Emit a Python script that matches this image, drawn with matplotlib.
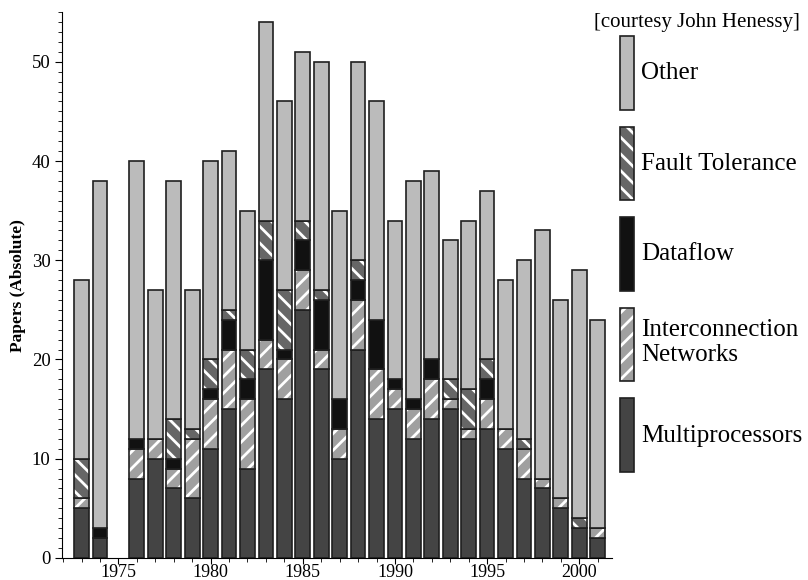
import numpy as np
import matplotlib
matplotlib.use('Agg')
import matplotlib.pyplot as plt
from matplotlib.ticker import MultipleLocator
from matplotlib.legend_handler import HandlerTuple

plt.rcParams['font.family'] = ['Liberation Serif', 'DejaVu Serif']
plt.rcParams['hatch.linewidth'] = 2.0

# papers per year (1975 has no data)
years = [1973, 1974] + list(range(1976, 2002))
multi = [5, 2, 8, 10, 7, 6, 11, 15, 9, 19, 16, 25, 19, 10, 21, 14,
         15, 12, 14, 15, 12, 13, 11, 8, 7, 5, 3, 2]
interconn = [1, 0, 3, 2, 2, 6, 5, 6, 7, 3, 4, 4, 2, 3, 5, 5,
             2, 3, 4, 1, 1, 3, 2, 3, 1, 1, 0, 1]
dataflow = [0, 1, 1, 0, 1, 0, 1, 3, 2, 8, 1, 3, 5, 3, 2, 5,
            1, 1, 2, 0, 0, 2, 0, 0, 0, 0, 0, 0]
fault = [4, 0, 0, 0, 4, 1, 3, 1, 3, 4, 6, 2, 1, 0, 2, 0,
         0, 0, 0, 2, 4, 2, 0, 1, 0, 0, 1, 0]
other = [18, 35, 28, 15, 24, 14, 20, 16, 14, 20, 19, 17, 23, 19, 20, 22,
         16, 22, 19, 14, 17, 17, 15, 18, 25, 20, 25, 21]

series = [('Multiprocessors', multi, '#444444', None),
          ('Interconnection\nNetworks', interconn, '#a0a0a0', '//'),
          ('Dataflow', dataflow, '#111111', None),
          ('Fault Tolerance', fault, '#666666', '\\\\'),
          ('Other', other, '#bbbbbb', None)]

fig = plt.figure(figsize=(8.08, 5.8), dpi=100)
ax = fig.add_axes([0.077, 0.038, 0.681, 0.941])

x = np.array(years)
bottom = np.zeros(len(years))
handles = []
for name, vals, col, hat in series:
    vals = np.array(vals, dtype=float)
    # fill + white hatch, then a dark outline on top
    f = ax.bar(x, vals, width=0.8, bottom=bottom, color=col, hatch=hat,
               edgecolor='white', linewidth=0)
    o = ax.bar(x, vals, width=0.8, bottom=bottom, fill=False,
               edgecolor='#1f1f1f', linewidth=1.2)
    handles.append((f, o))
    bottom += vals

ax.set_xlim(1971.95, 2001.8)
ax.set_ylim(0, 55)
ax.spines['top'].set_visible(False)
ax.spines['right'].set_visible(False)
ax.xaxis.set_minor_locator(MultipleLocator(1))
ax.yaxis.set_major_locator(MultipleLocator(10))
ax.yaxis.set_minor_locator(MultipleLocator(1))
ax.set_xticks([1975, 1980, 1985, 1990, 1995, 2000])
ax.tick_params(which='major', length=5, labelsize=13.5)
ax.tick_params(which='minor', length=3)
ax.tick_params(axis='x', which='major', length=4, pad=0.5, labelsize=13)
ax.set_ylabel('Papers (Absolute)', fontsize=12.5, fontweight='bold', labelpad=4)

fig.legend(handles[::-1], [s[0] for s in series][::-1],
           handler_map={tuple: HandlerTuple(ndivide=1)},
           loc='upper left', bbox_to_anchor=(0.767, 0.938),
           frameon=False, fontsize=18, handlelength=0.56,
           handleheight=4.15, labelspacing=0.68, handletextpad=0.3,
           borderpad=0, borderaxespad=0)

fig.text(0.99, 0.962, '[courtesy John Henessy]', ha='right', va='center',
         fontsize=15)

fig.savefig('out.png', dpi=100)
